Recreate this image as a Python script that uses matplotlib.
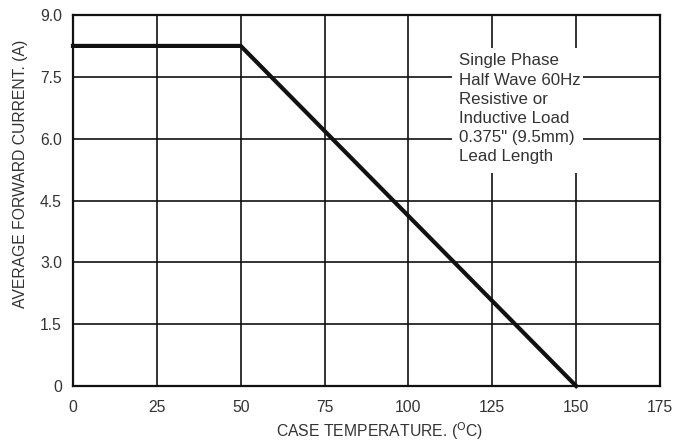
import matplotlib
matplotlib.use("Agg")
import matplotlib.pyplot as plt
from matplotlib.patches import Rectangle

# Data
temperature = [0, 50, 150]
current = [8.25, 8.25, 0.0]
xticks = [0, 25, 50, 75, 100, 125, 150, 175]
yticks = [0, 1.5, 3.0, 4.5, 6.0, 7.5, 9.0]
ytick_labels = ["0", "1.5", "3.0", "4.5", "6.0", "7.5", "9.0"]
note_lines = ["Single Phase", "Half Wave 60Hz", "Resistive or",
              "Inductive Load", "0.375\" (9.5mm)", "Lead Length"]

plt.rcParams['font.family'] = ['Liberation Sans', 'DejaVu Sans']
txt = '#333333'

fig = plt.figure(figsize=(6.87, 4.41), dpi=100)
W, H = 687, 441
x0, x1, y0, y1 = 73, 660, 15, 386
ax = fig.add_axes([x0 / W, 1 - y1 / H, (x1 - x0) / W, (y1 - y0) / H])

ax.set_xlim(0, 175)
ax.set_ylim(0, 9)
ax.set_xticks(xticks)
ax.set_yticks(yticks)
ax.set_yticklabels(ytick_labels)
ax.tick_params(length=0, labelsize=11.3, colors=txt, pad=8)
ax.tick_params(axis='x', pad=10)
ax.grid(True, color='#111111', linewidth=1.2)
ax.set_axisbelow(True)
for s in ax.spines.values():
    s.set_linewidth(1.6)
    s.set_color('#111111')

# white box hiding grid behind the note
ax.add_patch(Rectangle((113.0, 5.17), 39.0, 3.03, facecolor='white',
                       edgecolor='none', zorder=1.5))
ax.text(115.1, 8.07, "\n".join(note_lines), ha='left', va='top',
        fontsize=12.2, color=txt, linespacing=1.35, zorder=3)

ax.plot(temperature, current, color='#111111', linewidth=3.0,
        solid_joinstyle='miter', zorder=4, clip_on=False)

fig.text(21 / W, 1 - 174 / H, "AVERAGE FORWARD CURRENT. (A)", rotation=90,
         ha='center', va='center', fontsize=11.3, color=txt)
fig.text(380 / W, 1 - 431 / H, r"CASE TEMPERATURE. ($^{\mathrm{O}}$C)",
         ha='center', va='center', fontsize=11.3, color=txt)

fig.savefig("out.png", dpi=100)
